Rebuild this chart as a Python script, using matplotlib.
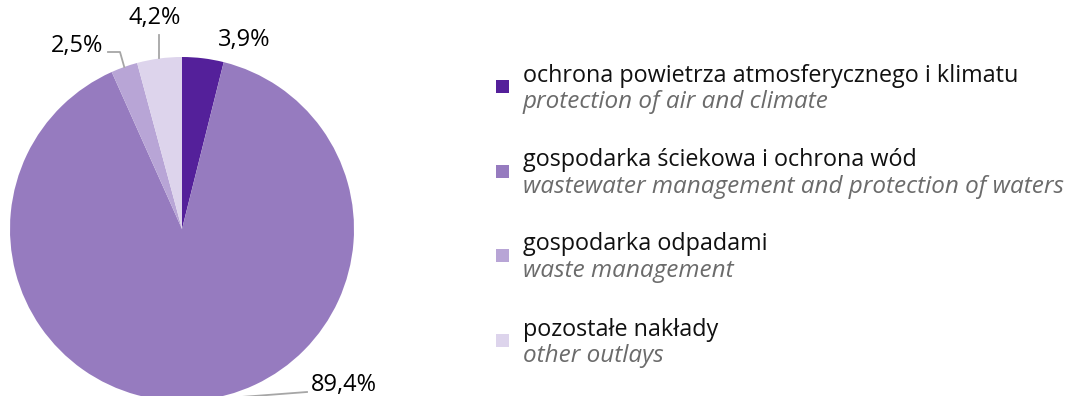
import matplotlib.pyplot as plt
import numpy as np

plt.rcParams["font.family"] = ["Open Sans", "DejaVu Sans"]

# udział nakładów na środki trwałe służące ochronie środowiska
shares = [3.9, 89.4, 2.5, 4.2]
share_labels = ["3,9%", "89,4%", "2,5%", "4,2%"]
names_pl = [
    "ochrona powietrza atmosferycznego i klimatu",
    "gospodarka ściekowa i ochrona wód",
    "gospodarka odpadami",
    "pozostałe nakłady",
]
names_en = [
    "protection of air and climate",
    "wastewater management and protection of waters",
    "waste management",
    "other outlays",
]
colors = ["#54209a", "#967bbf", "#b8a5d6", "#ddd4ec"]

W, H = 1070, 396
fig = plt.figure(figsize=(W / 100, H / 100), dpi=100)

# pie axes sized so that radius 1 == 172 px, centre at (182, 229) px
cx, cy, r = 182, 229, 172
ax = fig.add_axes([(cx - r) / W, (H - cy - r) / H, 2 * r / W, 2 * r / H])
wedges, _ = ax.pie(shares, colors=colors, startangle=90, counterclock=False,
                   radius=1, wedgeprops=dict(linewidth=0))
ax.set_xlim(-1, 1)
ax.set_ylim(-1, 1)
ax.set_aspect("equal")
ax.axis("off")


def px(x, y):
    return (x - cx) / r, (cy - y) / r


def edge(w):
    a = np.deg2rad((w.theta1 + w.theta2) / 2)
    return np.cos(a), np.sin(a)


lc = "#a6a6a6"
fs_pct = 17
fs_pl = 16.8
fs_en = 17.5

# 3,9% - no leader
ax.text(*px(244, 40), share_labels[0], ha="center", va="center", fontsize=fs_pct, clip_on=False)

# 4,2% - straight leader up
ex, ey = edge(wedges[3])
ax.plot([ex, ex], [ey, px(0, 35)[1]], color=lc, lw=1.3, clip_on=False)
ax.text(px(155, 0)[0], px(0, 18)[1], share_labels[3], ha="center", va="center", fontsize=fs_pct, clip_on=False)

# 2,5% - elbow leader
ex, ey = edge(wedges[2])
bx, by = px(120, 52)
ax.plot([ex, bx, px(108, 0)[0]], [ey, by, by], color=lc, lw=1.3, clip_on=False)
ax.text(px(103, 0)[0], px(0, 46)[1], share_labels[2], ha="right", va="center", fontsize=fs_pct, clip_on=False)

# 89,4% - leader to the right
ex, ey = edge(wedges[1])
tx, ty = px(307, 392)
ax.plot([ex, tx], [ey, ty], color=lc, lw=1.3, clip_on=False)
ax.text(px(311, 0)[0], px(0, 385)[1], share_labels[1], ha="left", va="center", fontsize=fs_pct, clip_on=False)

# legend
sq_x, txt_x = 496, 523
sq_y = [86.5, 171.5, 255.5, 340.5]
for col, pl, en, y in zip(colors, names_pl, names_en, sq_y):
    fig.patches.append(plt.Rectangle((sq_x / W, 1 - (y + 6.5) / H), 13 / W, 13 / H,
                                     transform=fig.transFigure, color=col, lw=0))
    fig.text(txt_x / W, 1 - (y - 5) / H, pl, ha="left", va="baseline",
             fontsize=fs_pl, color="#111111")
    fig.text(txt_x / W, 1 - (y + 21.5) / H, en, ha="left", va="baseline",
             fontsize=fs_en, color="#6b6b6b", style="italic")

fig.savefig("out.png", dpi=100)
